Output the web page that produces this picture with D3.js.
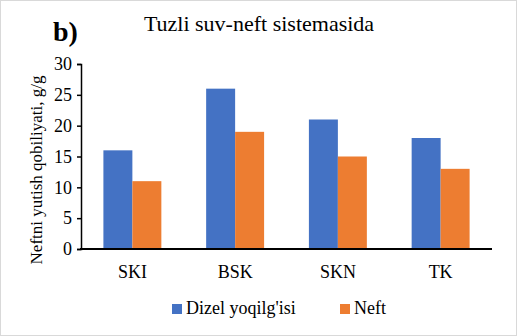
<!DOCTYPE html>
<html><head><meta charset="utf-8">
<script src="https://cdn.jsdelivr.net/npm/d3@7"></script>
</head><body style="margin:0;background:#fff">
<script>
const categories = ["SKI","BSK","SKN","TK"];
const seriesNames = ["Dizel yoqilg'isi","Neft"];
const dizel = [16,26,21,18];
const neft = [11,19,15,13];
const yTicks = [0,5,10,15,20,25,30];
const colors = ["#4472C4","#ED7D31"];

const W=517,H=336;
const FF="Times New Roman, Liberation Serif, Tinos, serif";
const svg=d3.select("body").append("svg").attr("width",W).attr("height",H).style("display","block");
svg.append("rect").attr("x",0.5).attr("y",0.5).attr("width",W-1).attr("height",H-1)
  .attr("fill","#fff").attr("stroke","#d9d9d9");
const L=81,R=492,T=64,B=249;
const x=d3.scaleBand().domain(categories).range([L,R]).paddingInner(0.436).paddingOuter(0.218);
const xs=d3.scaleBand().domain(seriesNames).range([0,x.bandwidth()]);
const y=d3.scaleLinear().domain([0,30]).range([B,T]);

const data=categories.map((c,i)=>({c,vals:[dizel[i],neft[i]]}));
const g=svg.append("g");
g.selectAll("g.cat").data(data).join("g").attr("transform",d=>`translate(${x(d.c)},0)`)
 .selectAll("rect").data(d=>d.vals.map((v,j)=>({v,s:seriesNames[j],j})))
 .join("rect").attr("x",d=>xs(d.s)).attr("width",xs.bandwidth())
 .attr("y",d=>y(d.v)).attr("height",d=>B-y(d.v)).attr("fill",d=>colors[d.j]);

const ya=svg.append("g").attr("transform",`translate(${L},0)`)
 .call(d3.axisLeft(y).tickValues(yTicks).tickSize(4).tickPadding(5));
ya.select(".domain").attr("stroke","#000").attr("stroke-width",1.5);
ya.selectAll(".tick line").attr("stroke","#000").attr("stroke-width",1.5);
ya.selectAll("text").attr("font-size",18).attr("fill","#000");

const xa=svg.append("g").attr("transform",`translate(0,${B})`)
 .call(d3.axisBottom(x).tickSize(0).tickPadding(16));
xa.select(".domain").attr("stroke","#000").attr("stroke-width",2).attr("d",`M${L-1},0H${R}`);
xa.selectAll("text").attr("font-size",18).attr("fill","#000");

svg.append("text").attr("x",53).attr("y",41).attr("font-weight","bold")
 .attr("font-size",28).text("b)");
svg.append("text").attr("x",259).attr("y",31).attr("text-anchor","middle")
 .attr("font-size",22).text("Tuzli suv-neft sistemasida");
svg.append("text").attr("transform","translate(42,170) rotate(-90)").attr("text-anchor","middle")
 .attr("font-size",17).text("Neftni yutish qobiliyati, g/g");

const leg=svg.append("g");
const legX=[172,340];
seriesNames.forEach((s,i)=>{
  leg.append("rect").attr("x",legX[i]).attr("y",304).attr("width",10).attr("height",10).attr("fill",colors[i]);
  leg.append("text").attr("x",legX[i]+14).attr("y",314).attr("font-size",18).text(s);
});
svg.selectAll("g").attr("font-family",FF);
svg.selectAll("text").attr("font-family",FF);
</script>
</body></html>
